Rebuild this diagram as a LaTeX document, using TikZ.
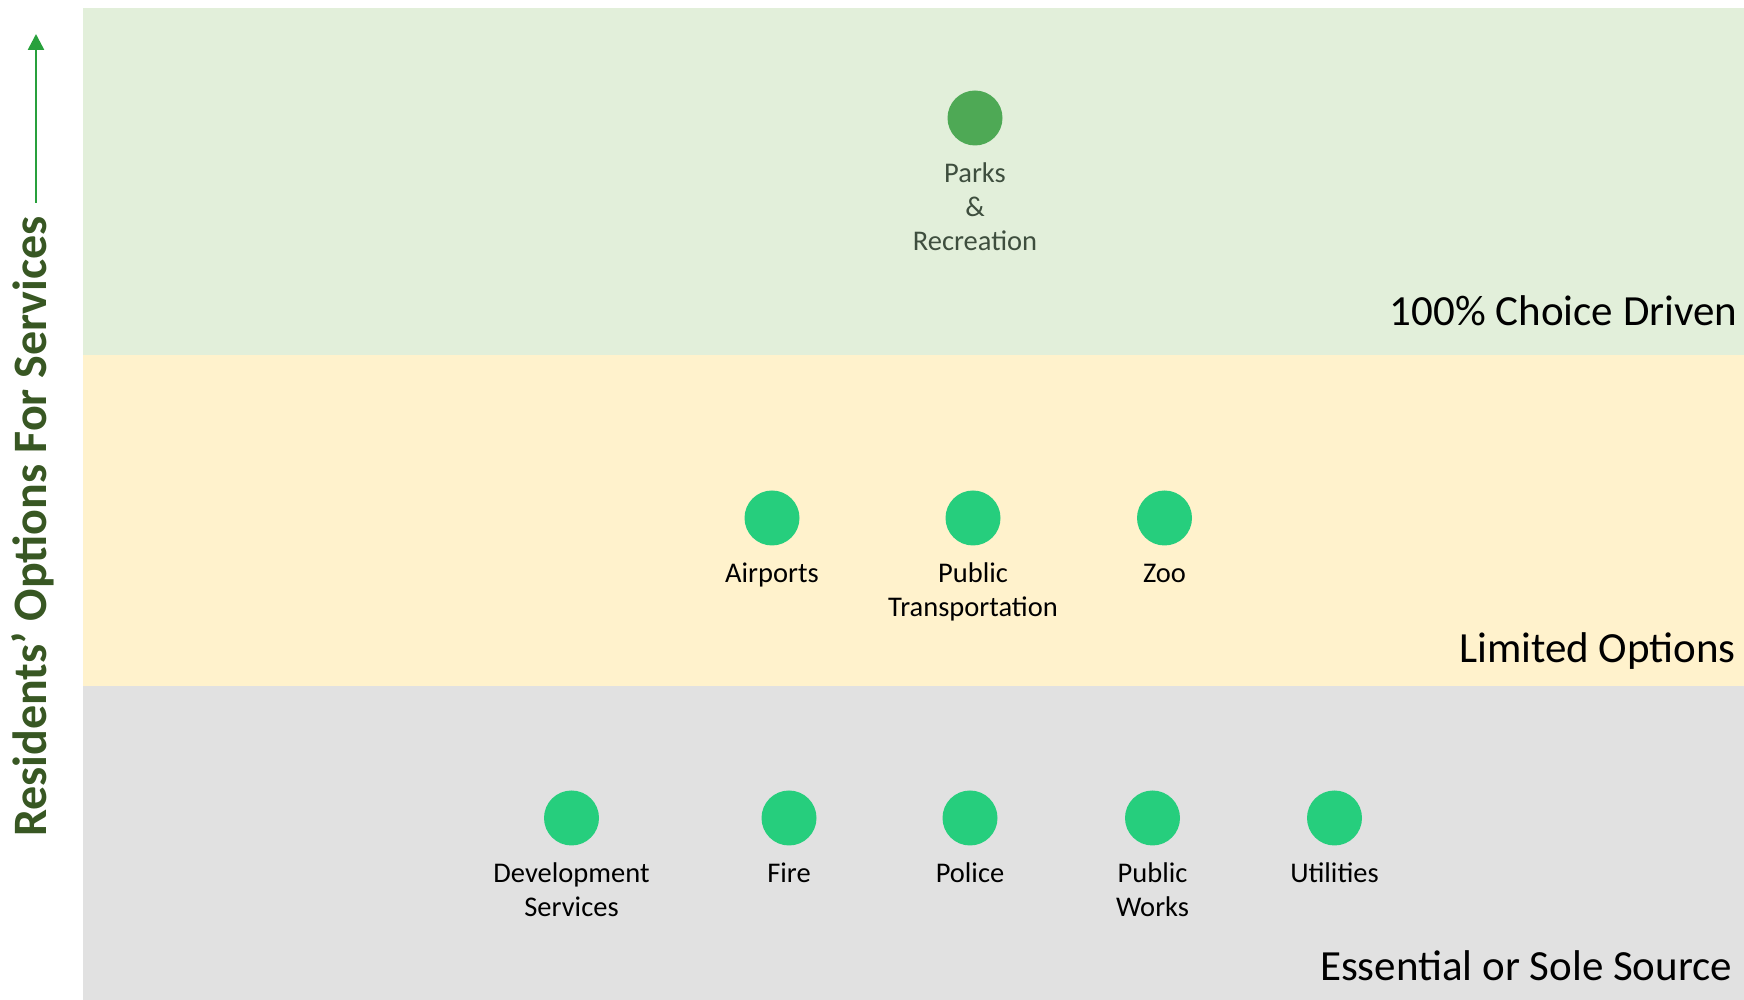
\documentclass[tikz,border=0pt]{standalone}
\usepackage{fontspec}
\setmainfont{Carlito}
\usetikzlibrary{arrows.meta, positioning}

\definecolor{bandgreen}{HTML}{E2EFDA}
\definecolor{bandyellow}{HTML}{FFF2CC}
\definecolor{bandgray}{HTML}{E1E1E1}
\definecolor{parksgreen}{HTML}{4EA955}
\definecolor{dotgreen}{HTML}{26CE7D}
\definecolor{arrowgreen}{HTML}{28A03C}
\definecolor{axistext}{HTML}{385723}
\definecolor{parkstext}{HTML}{3E4E3E}

\begin{document}
\begin{tikzpicture}[
    x=1pt, y=1pt,
    >=Stealth,
    service/.style={
      circle,
      fill=dotgreen,
      minimum size=55pt,
      inner sep=0pt
    },
    svclabel/.style={
      anchor=base,
      inner sep=0pt,
      align=center,
      font={\fontsize{28.5}{34}\selectfont}
    },
    bandlabel/.style={
      anchor=base east,
      inner sep=0pt,
      font={\fontsize{43}{50}\selectfont}
    }
]
\useasboundingbox (0,0) rectangle (1744,1000);

% Drei Baender
\fill[bandgreen]  (83,645) rectangle (1744,992);
\fill[bandyellow] (83,314) rectangle (1744,645);
\fill[bandgray]   (83,0)   rectangle (1744,314);

% Bandtitel
\node[bandlabel] (choice)  at (1737.5,674) {100\% Choice Driven};
\node[bandlabel] (limited) at (1736,337)   {Limited Options};
\node[bandlabel] (sole)    at (1732.5,19)  {Essential or Sole Source};

% Achse links
\coordinate (axistail) at (36,797);
\coordinate (axistip)  at (36,966);
\draw[arrowgreen, line width=2.5pt, -{Triangle[width=16pt,length=16pt]}] (axistail) -- (axistip);
\node[rotate=90, anchor=base, inner sep=0pt, text=axistext,
      font={\fontsize{48}{56}\selectfont\bfseries}] (axis) at (46,473.5)
  {Residents’ Options For Services};

% Oberes Band (anchor base = letzte Zeile)
\node[service, fill=parksgreen] (parks) at (975,882) {};
\node[svclabel, text=parkstext] (parkslbl) at ([yshift=-133pt]parks.center) {Parks\\\&\\Recreation};

% Mittleres Band
\node[service] (airports) at (772,482) {};
\node[service] (transit)  at (973,482) {};
\node[service] (zoo)      at (1164.5,482) {};
\node[svclabel] (airportslbl) at ([yshift=-65pt]airports.center) {Airports};
\node[svclabel] (transitlbl)  at ([yshift=-99pt]transit.center)  {Public\\Transportation};
\node[svclabel] (zoolbl)      at ([yshift=-65pt]zoo.center)      {Zoo};

% Unteres Band
\node[service] (devsvc)    at (571.5,182) {};
\node[service] (fire)      at (789,182) {};
\node[service] (police)    at (970,182) {};
\node[service] (pubworks)  at (1152.5,182) {};
\node[service] (utilities) at (1334.5,182) {};
\node[svclabel] (devsvclbl)    at ([yshift=-99pt]devsvc.center)    {Development\\Services};
\node[svclabel] (firelbl)      at ([yshift=-65pt]fire.center)      {Fire};
\node[svclabel] (policelbl)    at ([yshift=-65pt]police.center)    {Police};
\node[svclabel] (pubworkslbl)  at ([yshift=-99pt]pubworks.center)  {Public\\Works};
\node[svclabel] (utilitieslbl) at ([yshift=-65pt]utilities.center) {Utilities};

\end{tikzpicture}
\end{document}
